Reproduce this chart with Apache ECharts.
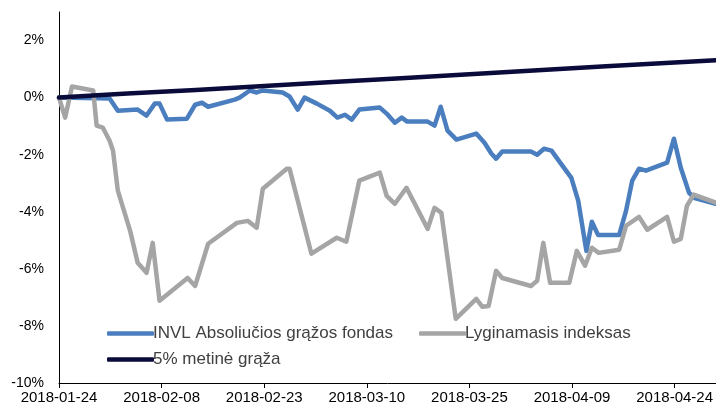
<!DOCTYPE html>
<html lang="lt">
<head>
    <meta charset="UTF-8">
    <title>INVL Absoliučios grąžos fondas</title>
    <script src="https://cdn.jsdelivr.net/npm/echarts@6/dist/echarts.min.js"></script>
    <style>
        body { margin: 0; background: #fff; }
    </style>
</head>
<body>
    <div id="main" style="width: 716px; height: 406px;"></div>
    <script>
        // x = dienos nuo 2018-01-24
        let startDate = Date.UTC(2018, 0, 24)
        let seriesNames = ['INVL Absoliučios grąžos fondas', 'Lyginamasis indeksas', '5% metinė grąža']

        let fundDays = [0, 7.4, 8.6, 11.5, 12.8, 14.0, 14.7, 15.8, 18.7, 19.9, 20.9, 21.8, 25.7, 26.4, 27.9, 28.9, 29.8, 32.7, 33.7, 34.9, 35.9, 37.7, 39.6, 40.7, 41.8, 42.8, 43.9, 46.9, 47.9, 49.1, 50.1, 50.9, 53.9, 54.9, 55.8, 56.8, 58.1, 61.0, 62.2, 63.2, 63.9, 64.8, 69.0, 69.9, 70.9, 72.0, 73.4, 74.9, 75.9, 77.1, 77.9, 78.8, 81.9, 82.9, 83.8, 84.8, 85.8, 88.9, 89.9, 90.9, 92.1, 92.8, 96]
        let fundValues = [0, -0.03, -0.46, -0.42, -0.63, -0.21, -0.21, -0.77, -0.74, -0.25, -0.18, -0.32, -0.07, 0, 0.25, 0.18, 0.25, 0.18, 0.04, -0.42, 0, -0.21, -0.46, -0.70, -0.60, -0.77, -0.42, -0.35, -0.56, -0.88, -0.70, -0.84, -0.84, -0.98, -0.32, -1.16, -1.47, -1.26, -1.58, -1.96, -2.14, -1.89, -1.89, -2.00, -1.79, -1.86, -2.32, -2.81, -3.61, -5.37, -4.35, -4.81, -4.81, -3.96, -2.91, -2.49, -2.56, -2.28, -1.44, -2.46, -3.33, -3.51, -3.72]

        let indexDays = [0, 0.9, 1.9, 5.0, 5.5, 6.4, 7.4, 7.9, 8.6, 10.4, 11.5, 12.8, 13.7, 14.7, 18.8, 19.9, 21.8, 26.0, 27.6, 28.9, 29.8, 33.3, 33.7, 36.9, 40.6, 42.0, 43.9, 46.9, 47.9, 49.1, 50.8, 53.9, 54.9, 55.9, 58.0, 61.0, 61.9, 62.8, 63.9, 64.8, 69.0, 69.9, 70.8, 71.8, 74.6, 75.7, 76.9, 77.9, 78.9, 81.9, 82.9, 84.8, 86.0, 88.9, 89.9, 90.9, 91.8, 92.8, 96]
        let indexValues = [0, -0.70, 0.39, 0.25, -0.98, -1.05, -1.51, -1.86, -3.26, -4.67, -5.79, -6.14, -5.09, -7.12, -6.32, -6.60, -5.12, -4.39, -4.32, -4.56, -3.19, -2.49, -2.49, -5.47, -4.91, -5.05, -2.91, -2.63, -3.44, -3.72, -3.16, -4.60, -3.86, -4.04, -7.75, -7.05, -7.33, -7.30, -6.07, -6.32, -6.60, -6.42, -5.09, -6.49, -6.49, -5.37, -5.89, -5.26, -5.44, -5.33, -4.49, -4.18, -4.63, -4.18, -5.05, -4.95, -3.79, -3.40, -3.68]

        let targetDays = [0, 10, 20, 30, 40, 50, 60, 70, 80, 90, 96]
        let targetValues = [0, 0.14, 0.27, 0.41, 0.55, 0.68, 0.82, 0.96, 1.10, 1.23, 1.31]

        function pairs(days, values) {
            return days.map((d, i) => [d, values[i]])
        }

        function dateLabel(v) {
            return new Date(startDate + v * 86400000).toISOString().slice(0, 10)
        }

        let font = 'Liberation Sans, Arial, sans-serif'

        function lineSeries(name, data, color, z) {
            return {
                name: name,
                type: 'line',
                data: data,
                symbol: 'none',
                z: z,
                lineStyle: { color: color, width: 4.5, join: 'round', cap: 'round' },
                itemStyle: { color: color }
            }
        }

        let chart = echarts.init(document.getElementById('main'))
        let legendBase = {
            orient: 'horizontal',
            icon: 'roundRect',
            itemWidth: 47,
            itemHeight: 4.5,
            itemGap: 26,
            textStyle: { fontFamily: font, fontSize: 17, color: '#404040', padding: [0, 0, 0, -6] }
        }
        let option = {
            animation: false,
            backgroundColor: '#fff',
            grid: { left: 59, right: 0, top: 12, bottom: 23 },
            legend: [
                Object.assign({}, legendBase, { left: 102, top: 320, data: [seriesNames[0], seriesNames[1]] }),
                Object.assign({}, legendBase, { left: 102, top: 346, data: [seriesNames[2]] })
            ],
            xAxis: {
                type: 'value',
                min: 0,
                max: 96,
                interval: 15,
                axisLine: { onZero: false, lineStyle: { color: '#000', width: 1 } },
                axisTick: { show: true, length: 5, lineStyle: { color: '#000' } },
                splitLine: { show: false },
                axisLabel: {
                    showMaxLabel: false,
                    fontFamily: font, fontSize: 15, color: '#000', margin: 7,
                    formatter: v => (v % 15 === 0 ? dateLabel(v) : '')
                }
            },
            yAxis: {
                type: 'value',
                min: -10,
                max: 3,
                interval: 2,
                axisLine: { show: true, onZero: false, lineStyle: { color: '#000', width: 1 } },
                axisTick: { show: false },
                splitLine: { show: false },
                axisLabel: {
                    showMaxLabel: false,
                    fontFamily: font, fontSize: 14, color: '#000', margin: 15,
                    formatter: v => (v > 2 ? '' : v + '%')
                }
            },
            series: [
                lineSeries(seriesNames[0], pairs(fundDays, fundValues), '#4a7ebf', 2),
                lineSeries(seriesNames[1], pairs(indexDays, indexValues), '#a5a5a5', 3),
                lineSeries(seriesNames[2], pairs(targetDays, targetValues), '#0b0b3b', 4)
            ]
        }
        chart.setOption(option)
    </script>
</body>
</html>
